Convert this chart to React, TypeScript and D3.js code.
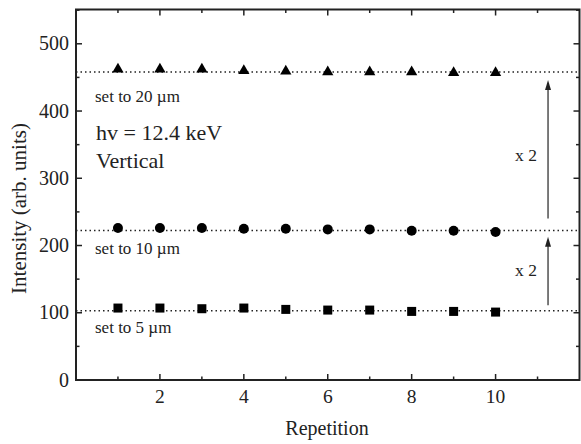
import { useEffect, useRef } from "react";
import * as d3 from "d3";

const repetitions = [1, 2, 3, 4, 5, 6, 7, 8, 9, 10];
const set20 = [462, 462, 462, 460, 459, 458, 458, 458, 457, 457];
const set10 = [226, 226, 226, 225, 225, 224, 224, 222, 222, 220];
const set5 = [107, 107, 106, 107, 105, 104, 104, 102, 102, 101];
const refLevels = [458, 222.5, 103];
const xTicks = [2, 4, 6, 8, 10];
const yTicks = [0, 100, 200, 300, 400, 500];
const setLabels = [
    { text: "set to 20 \u00b5m", y: 413 },
    { text: "set to 10 \u00b5m", y: 188 },
    { text: "set to 5 \u00b5m", y: 70 },
];
const arrows = [
    { from: 111, to: 213, label: "x 2", labelY: 154 },
    { from: 240, to: 446, label: "x 2", labelY: 325 },
];

const App = () => {
    const svgRef = useRef<SVGSVGElement>(null);

    useEffect(() => {
        const width = 581;
        const height = 444;
        const margin = { top: 9.5, right: 1.5, bottom: 64, left: 76 };
        const ink = "#222";
        const font = "'Liberation Serif', 'Times New Roman', serif";

        const svg = d3.select(svgRef.current);
        svg.selectAll("*").remove();

        const x = d3.scaleLinear().domain([0, 12]).range([margin.left, width - margin.right]);
        const y = d3.scaleLinear().domain([0, 551]).range([height - margin.bottom, margin.top]);

        const x0 = margin.left;
        const x1 = width - margin.right;
        const y0 = height - margin.bottom;
        const y1 = margin.top;

        // Ticks (inward) on all four sides
        const xMinor = d3.range(1, 12, 2);
        const yMinor = d3.range(50, 551, 100);
        const tickG = svg.append("g").attr("stroke", ink).attr("stroke-width", 1.5);
        xTicks.forEach((t) => {
            tickG.append("line").attr("x1", x(t)).attr("x2", x(t)).attr("y1", y0).attr("y2", y0 - 6);
            tickG.append("line").attr("x1", x(t)).attr("x2", x(t)).attr("y1", y1).attr("y2", y1 + 6);
        });
        xMinor.forEach((t) => {
            tickG.append("line").attr("x1", x(t)).attr("x2", x(t)).attr("y1", y0).attr("y2", y0 - 3.5);
            tickG.append("line").attr("x1", x(t)).attr("x2", x(t)).attr("y1", y1).attr("y2", y1 + 3.5);
        });
        yTicks.forEach((t) => {
            tickG.append("line").attr("x1", x0).attr("x2", x0 + 6).attr("y1", y(t)).attr("y2", y(t));
            tickG.append("line").attr("x1", x1).attr("x2", x1 - 6).attr("y1", y(t)).attr("y2", y(t));
        });
        yMinor.forEach((t) => {
            tickG.append("line").attr("x1", x0).attr("x2", x0 + 3.5).attr("y1", y(t)).attr("y2", y(t));
            tickG.append("line").attr("x1", x1).attr("x2", x1 - 3.5).attr("y1", y(t)).attr("y2", y(t));
        });

        // Frame
        svg.append("rect")
            .attr("x", x0)
            .attr("y", y1)
            .attr("width", x1 - x0)
            .attr("height", y0 - y1)
            .attr("fill", "none")
            .attr("stroke", ink)
            .attr("stroke-width", 2);

        // Tick labels
        svg.append("g")
            .selectAll("text")
            .data(xTicks)
            .enter()
            .append("text")
            .attr("x", (d) => x(d))
            .attr("y", y0 + 23)
            .attr("text-anchor", "middle")
            .attr("font-family", font)
            .attr("font-size", 19.5)
            .attr("fill", ink)
            .text((d) => d);

        svg.append("g")
            .selectAll("text")
            .data(yTicks)
            .enter()
            .append("text")
            .attr("x", x0 - 7)
            .attr("y", (d) => y(d) + 6.7)
            .attr("text-anchor", "end")
            .attr("font-family", font)
            .attr("font-size", 20)
            .attr("fill", ink)
            .text((d) => d);

        // Axis titles
        svg.append("text")
            .attr("x", 327)
            .attr("y", 435)
            .attr("text-anchor", "middle")
            .attr("font-family", font)
            .attr("font-size", 20)
            .attr("fill", ink)
            .text("Repetition");

        svg.append("text")
            .attr("transform", "translate(26, 208.5) rotate(-90)")
            .attr("text-anchor", "middle")
            .attr("font-family", font)
            .attr("font-size", 21)
            .attr("fill", ink)
            .text("Intensity (arb. units)");

        // Dotted reference levels
        svg.append("g")
            .selectAll("line")
            .data(refLevels)
            .enter()
            .append("line")
            .attr("x1", x0)
            .attr("x2", x1)
            .attr("y1", (d) => y(d))
            .attr("y2", (d) => y(d))
            .attr("stroke", ink)
            .attr("stroke-width", 1.5)
            .attr("stroke-dasharray", "1.5,3");

        // Markers
        const tri = d3.symbol().type(d3.symbolTriangle).size(55);
        svg.append("g")
            .selectAll("path")
            .data(set20)
            .enter()
            .append("path")
            .attr("d", tri)
            .attr("transform", (d, i) => `translate(${x(repetitions[i])},${y(d)})`)
            .attr("fill", "#000");

        svg.append("g")
            .selectAll("circle")
            .data(set10)
            .enter()
            .append("circle")
            .attr("cx", (d, i) => x(repetitions[i]))
            .attr("cy", (d) => y(d))
            .attr("r", 5)
            .attr("fill", "#000");

        svg.append("g")
            .selectAll("rect")
            .data(set5)
            .enter()
            .append("rect")
            .attr("x", (d, i) => x(repetitions[i]) - 4.5)
            .attr("y", (d) => y(d) - 4.5)
            .attr("width", 9)
            .attr("height", 9)
            .attr("fill", "#000");

        // Set labels and annotation
        setLabels.forEach((l) => {
            svg.append("text")
                .attr("x", 95)
                .attr("y", y(l.y))
                .attr("font-family", font)
                .attr("font-size", 17)
                .attr("fill", ink)
                .text(l.text);
        });

        svg.append("text")
            .attr("x", 96)
            .attr("y", 140)
            .attr("font-family", font)
            .attr("font-size", 22)
            .attr("fill", ink)
            .text("hv = 12.4 keV");
        svg.append("text")
            .attr("x", 96)
            .attr("y", 167.5)
            .attr("font-family", font)
            .attr("font-size", 22)
            .attr("fill", ink)
            .text("Vertical");

        // Arrows
        const ax = x(11.25);
        arrows.forEach((a) => {
            svg.append("line")
                .attr("x1", ax)
                .attr("x2", ax)
                .attr("y1", y(a.from))
                .attr("y2", y(a.to) + 8)
                .attr("stroke", ink)
                .attr("stroke-width", 1.2);
            svg.append("path")
                .attr("d", `M${ax},${y(a.to)} L${ax - 3},${y(a.to) + 10} L${ax + 3},${y(a.to) + 10} Z`)
                .attr("fill", ink);
            svg.append("text")
                .attr("x", ax - 22)
                .attr("y", y(a.labelY))
                .attr("text-anchor", "middle")
                .attr("font-family", font)
                .attr("font-size", 17.5)
                .attr("fill", ink)
                .text(a.label);
        });
    }, []);

    return <svg ref={svgRef} width={581} height={444} style={{ position: "absolute", left: 0, top: 0 }}></svg>;
};

export default App;
